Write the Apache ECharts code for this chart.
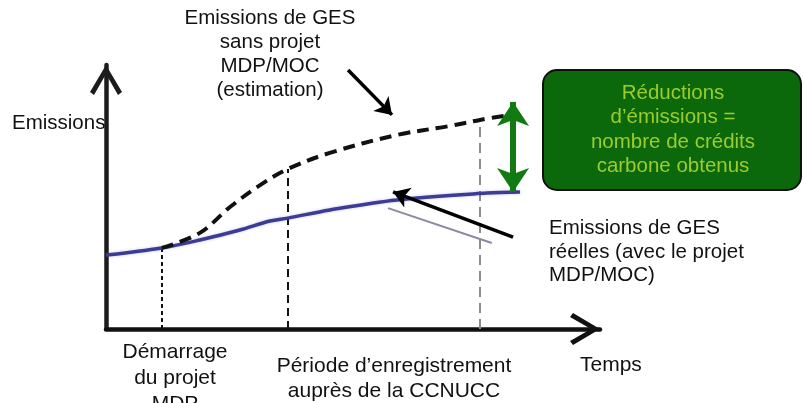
<!DOCTYPE html>
<html>
<head>
<meta charset="utf-8">
<script src="https://cdn.jsdelivr.net/npm/echarts@6/dist/echarts.min.js"></script>
<style>
html,body{margin:0;padding:0;background:#fff;}
#chart{width:804px;height:403px;}
</style>
</head>
<body>
<div id="chart"></div>
<script>
// ---- data (time units 0..100, emission units 0..100) ----
const timeReal = [0, 11.3, 19, 27.1, 33.2, 36.8, 45.3, 58.9, 77.1, 83.8];
const emisReal = [28, 30.7, 33.7, 37.5, 40.9, 42, 45.1, 48.9, 51.5, 51.9];
const timeBase = [11.3, 19, 25.1, 31.2, 36.8, 45.3, 58.9, 69.6, 75.7, 82.8];
const emisBase = [30.7, 36.4, 46.2, 54.5, 60.6, 66.7, 73.5, 76.9, 79.2, 81.4];
const markTime = [11.3, 36.8, 75.7];
const markTop = [30.7, 60.6, 79.2];
const reductionTime = 82.4;
const reductionRange = [51.9, 86];
// annotation pointers [fromT, fromE, toT, toE]
const pointerBase = [49, 98.1, 57.9, 81.1];
const pointerReal = [82.4, 34.8, 58.1, 51.9];
const pointerGrey = [57.1, 45.8, 78.1, 32.6];

// ---- texts ----
const yAxisTitle = 'Emissions';
const xAxisTitle = 'Temps';
const baseLabel = ['Emissions de GES', 'sans projet', 'MDP/MOC', '(estimation)'];
const realLabel = ['Emissions de GES', 'réelles (avec le projet', 'MDP/MOC)'];
const boxLabel = ['Réductions', 'd’émissions =', 'nombre de crédits', 'carbone obtenus'];
const startLabel = ['Démarrage', 'du projet', 'MDP'];
const periodLabel = ['Période d’enregistrement', 'auprès de la CCNUCC'];

const FONT = '"Liberation Sans", Arial, sans-serif';
const chevron = 'path://M0,27 L16,0 L32,27 L28,30 L16,9 L4,30 Z';

const chart = echarts.init(document.getElementById('chart'), null, {renderer: 'canvas'});

function txt(lines, x, y, align, lh, color, size) {
  return {
    type: 'text', silent: true, z: 50,
    style: {
      text: lines.join('\n'), x: x, y: y, align: align, verticalAlign: 'middle',
      fontFamily: FONT, fontSize: size || 21, lineHeight: lh, fill: color || '#111'
    }
  };
}

const vlineStyles = [
  {color: '#111', width: 2, type: [4, 3], opacity: 1},
  {color: '#111', width: 2, type: [8, 5], opacity: 1},
  {color: '#8c8c8c', width: 2, type: [10, 6], opacity: 1}
];

const option = {
  animation: false,
  backgroundColor: '#fff',
  grid: {left: 106, right: 204, top: 65, bottom: 74},
  xAxis: {
    type: 'value', min: 0, max: 100,
    axisLine: {show: true, lineStyle: {color: '#111', width: 4.5}, symbol: ['none', chevron], symbolSize: [32, 30], symbolOffset: [0, -15]},
    axisTick: {show: false}, axisLabel: {show: false}, splitLine: {show: false}
  },
  yAxis: {
    type: 'value', min: 0, max: 100,
    axisLine: {show: true, lineStyle: {color: '#1c1c1c', width: 4.5}, symbol: ['none', chevron], symbolSize: [32, 30], symbolOffset: [0, -15]},
    axisTick: {show: false}, axisLabel: {show: false}, splitLine: {show: false}
  },
  series: [
    {
      type: 'lines', coordinateSystem: 'cartesian2d', clip: false, z: 1,
      data: markTime.map((t, i) => ({coords: [[t, 0], [t, markTop[i]]], lineStyle: vlineStyles[i]})),
      lineStyle: {opacity: 1},
      symbol: 'none'
    },
    {
      type: 'line', smooth: 0.35, showSymbol: false, z: 3,
      data: timeReal.map((t, i) => [t, emisReal[i]]),
      lineStyle: {color: '#3c3c96', width: 3.5, shadowColor: 'rgba(90,90,200,0.35)', shadowBlur: 3}
    },
    {
      type: 'line', smooth: 0.35, showSymbol: false, z: 4,
      data: timeBase.map((t, i) => [t, emisBase[i]]),
      lineStyle: {color: '#111', width: 4, type: [12, 7]}
    },
    {
      type: 'lines', coordinateSystem: 'cartesian2d', clip: false, z: 5,
      symbol: ['arrow', 'arrow'], symbolSize: 24,
      data: [{coords: [[reductionTime, reductionRange[0]], [reductionTime, reductionRange[1]]]}],
      lineStyle: {color: '#127a12', width: 6, opacity: 1}
    },
    {
      type: 'lines', coordinateSystem: 'cartesian2d', clip: false, z: 6,
      symbol: ['none', 'arrow'], symbolSize: 16,
      data: [pointerBase, pointerReal].map(p => ({coords: [[p[0], p[1]], [p[2], p[3]]]})),
      lineStyle: {color: '#000', width: 3.5, opacity: 1}
    },
    {
      type: 'lines', coordinateSystem: 'cartesian2d', clip: false, z: 2,
      symbol: 'none',
      data: [{coords: [[pointerGrey[0], pointerGrey[1]], [pointerGrey[2], pointerGrey[3]]]}],
      lineStyle: {color: '#8a8aa2', width: 2, opacity: 1}
    }
  ],
  graphic: [
    {
      type: 'rect', z: 40, silent: true,
      shape: {x: 543, y: 70, width: 258, height: 120, r: 14},
      style: {fill: '#0b680b', stroke: '#111', lineWidth: 2}
    },
    txt(boxLabel, 673, 130, 'center', 24.5, '#9dcc2e', 20.5),
    txt(baseLabel, 270, 54, 'center', 24, '#111', 20.5),
    txt([yAxisTitle], 12, 123, 'left', 24, '#111', 20.5),
    txt(realLabel, 549, 252, 'left', 23.5, '#111', 20.5),
    txt(startLabel, 175, 378, 'center', 26, '#111', 21),
    txt(periodLabel, 394, 379, 'center', 25, '#111', 21),
    txt([xAxisTitle], 580, 365, 'left', 24, '#111', 21)
  ]
};
chart.setOption(option);
</script>
</body>
</html>
